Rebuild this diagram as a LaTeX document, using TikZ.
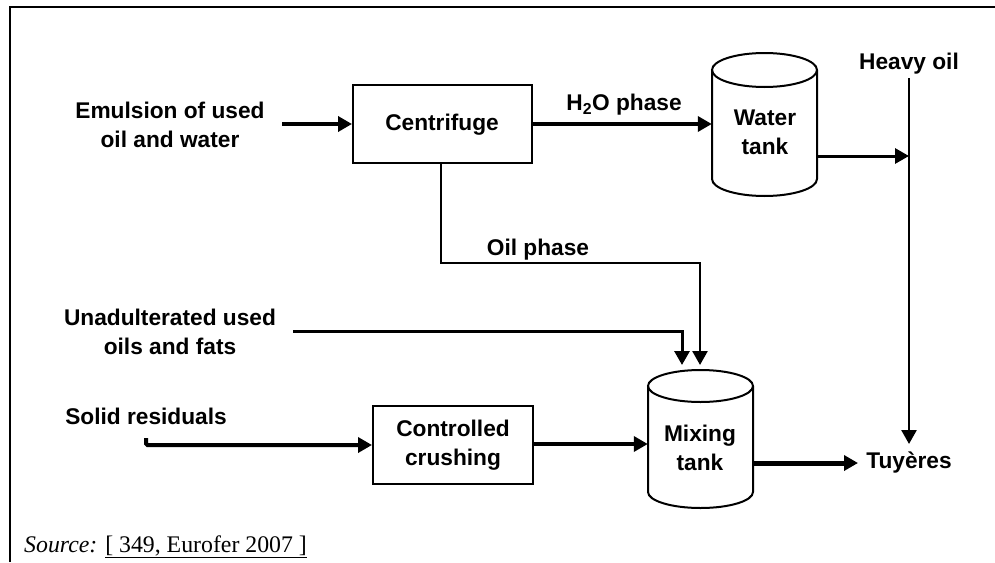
\documentclass[tikz,border=0pt]{standalone}
\usepackage{fontspec}
\setmainfont{Liberation Sans}
\newfontfamily\srcfont{Liberation Serif}
\usetikzlibrary{arrows.meta,calc}
\begin{document}
\begin{tikzpicture}[x=1pt,y=-1pt,
  lbl/.style={font=\fontsize{22.7}{28.8}\selectfont\bfseries, align=center, inner sep=0pt},
  procbox/.style={draw, line width=2pt, inner sep=0pt},
  tankbody/.style={inner sep=0pt},
  flowthick/.style={line width=4pt, -{Triangle[length=14pt,width=15pt]}},
  flowthin/.style={line width=2.6pt, -{Triangle[length=14pt,width=15pt]}},
  tankline/.style={line width=2pt}]
\useasboundingbox (0,0) rectangle (995,562);
% frame
\draw[line width=2.6pt] (10,562) -- (10,7) -- (995,7);

% process boxes
\node[procbox, minimum width=179pt, minimum height=78pt] (cf) at (442.5,124) {};
\node[lbl] at (442,125) {Centrifuge};
\node[procbox, minimum width=160pt, minimum height=78pt] (cc) at (453,445) {};
\node[lbl] at (453,445) {Controlled\\crushing};

% tanks
\node[tankbody, minimum width=105pt, minimum height=143pt] (wt) at (764.5,124.5) {};
\draw[tankline] (764.5,70) ellipse [x radius=52.5pt, y radius=17pt];
\draw[tankline] (712,70) -- (712,179) arc[start angle=180, end angle=360, x radius=52.5pt, y radius=17pt] -- (817,70);
\node[lbl] at (765,132) {Water\\tank};

\node[tankbody, minimum width=105pt, minimum height=138pt] (mt) at (700.5,439) {};
\draw[tankline] (700.5,386) ellipse [x radius=52.5pt, y radius=16pt];
\draw[tankline] (648,386) -- (648,492) arc[start angle=180, end angle=360, x radius=52.5pt, y radius=16pt] -- (753,386);
\node[lbl] at (700,447.5) {Mixing\\tank};

% text labels
\node[lbl] (em) at (170,124.5) {Emulsion of used\\oil and water};
\node[lbl] (un) at (170,331.5) {Unadulterated used\\oils and fats};
\node[lbl] (sr) at (146,416) {Solid residuals};
\node[lbl] (ho) at (909,64) {Heavy oil};
\node[lbl] (tu) at (909,463) {Tuy\`eres};
\node[lbl] (h2o) at (624,105) {H\textsubscript{2}O phase};
\node[lbl] (op) at (538,250) {Oil phase};

% coordinates
\coordinate (emS) at (282,124);
\coordinate (hoTop) at (909,78);
\coordinate (hoBot) at (909,444);
\coordinate (unS) at (293,331);
\coordinate (srS) at (146,438);

% connectors
\draw[flowthick] (emS) -- (cf.west |- emS);
\draw[flowthick] (cf.east |- emS) -- (wt.west |- emS);
\draw[flowthin] (hoTop) -- (hoBot);
\draw[flowthin, line width=3pt] (wt.east |- 0,156) -- (hoTop |- 0,156);
\draw[flowthin] (cf.south -| 441,0) -- (441,263) -- (700,263) -- (700,365);
\draw[flowthin, line width=3pt] (unS) -- (682,331) -- (682,365);
\draw[flowthick, rounded corners=1.5pt] (srS) -- (146,445) -- (cc.west |- 0,445);
\draw[flowthick] (cc.east |- 0,444) -- (mt.west |- 0,444);
\draw[flowthick, line width=5pt] (mt.east |- 0,463) -- (858,463);

% source
\node[anchor=base west, inner sep=0pt, font=\srcfont\fontsize{23.8}{28}\selectfont] (src) at (24,552)
  {\textit{Source:} \underline{[ 349, Eurofer 2007 ]}};
\end{tikzpicture}
\end{document}
